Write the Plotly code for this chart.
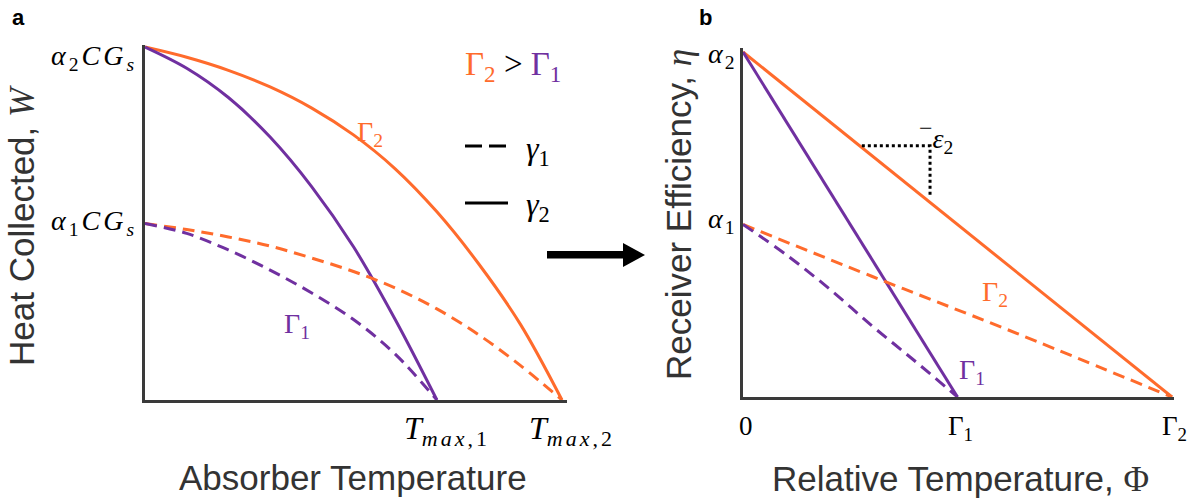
import plotly.graph_objects as go

# ---------------------------------------------------------------
# Panel a: heat collected W vs absorber temperature
# (temperature scaled so T_max,2 = 1, heat scaled so alpha2*C*G_s = 1)
# ---------------------------------------------------------------
a_T_g2_G2 = [0.0, 0.1, 0.2, 0.3, 0.4, 0.5, 0.6, 0.7, 0.8, 0.9, 1.0]
a_W_g2_G2 = [1.0, 0.971, 0.934, 0.887, 0.827, 0.751, 0.655, 0.533, 0.386, 0.215, 0.0]

a_T_g2_G1 = [0.0, 0.1, 0.2, 0.3, 0.4, 0.5, 0.6, 0.70]
a_W_g2_G1 = [1.0, 0.940, 0.857, 0.745, 0.604, 0.434, 0.228, 0.0]

a_T_g1_G2 = [0.0, 0.1, 0.2, 0.3, 0.4, 0.5, 0.6, 0.7, 0.8, 0.9, 1.0]
a_W_g1_G2 = [0.5, 0.483, 0.462, 0.436, 0.402, 0.364, 0.317, 0.258, 0.185, 0.098, 0.0]

a_T_g1_G1 = [0.0, 0.1, 0.2, 0.3, 0.4, 0.5, 0.6, 0.70]
a_W_g1_G1 = [0.5, 0.472, 0.425, 0.368, 0.303, 0.228, 0.130, 0.0]

a_xtick_vals = [0.70, 1.0]
a_xtick_text = ["<i>T</i><sub><span style='font-size:22px;letter-spacing:3px'><i>max</i>,1</span></sub>",
                "<i>T</i><sub><span style='font-size:22px;letter-spacing:3px'><i>max</i>,2</span></sub>"]
a_ytick_vals = [1.0, 0.5]
a_ytick_text = ["<i>α</i><sub>2</sub><i>CG</i><sub><i>s</i></sub>",
                "<i>α</i><sub>1</sub><i>CG</i><sub><i>s</i></sub>"]

# ---------------------------------------------------------------
# Panel b: receiver efficiency eta vs relative temperature Phi
# (Phi scaled so Gamma_2 = 1, eta scaled so alpha2 = 1)
# ---------------------------------------------------------------
b_P_g2_G2 = [0.0, 1.0]
b_E_g2_G2 = [1.0, 0.0]

b_P_g2_G1 = [0.0, 0.5]
b_E_g2_G1 = [1.0, 0.0]

b_P_g1_G2 = [0.0, 0.30, 0.615, 1.0]
b_E_g1_G2 = [0.5, 0.350, 0.196, 0.0]

b_P_g1_G1 = [0.0, 0.1, 0.2, 0.3, 0.4, 0.5]
b_E_g1_G1 = [0.5, 0.413, 0.315, 0.207, 0.105, 0.0]

# slope marker on the gamma_2, Gamma_2 line
b_slope_P = [0.277, 0.436, 0.436]
b_slope_E = [0.728, 0.728, 0.580]

b_xtick_vals = [0.0, 0.5, 1.0]
b_xtick_text = ["0", "Γ<sub>1</sub>", "Γ<sub>2</sub>"]
b_ytick_vals = [1.0, 0.5]
b_ytick_text = ["<i>α</i><sub>2</sub>", "<i>α</i><sub>1</sub>"]

# ---------------------------------------------------------------
W, H = 1198, 501
ORANGE = "#FF6B2C"
PURPLE = "#7030A0"
AXIS = "#3A3A3A"
TITLE = "#333333"
SANS = "Liberation Sans"
SERIF = "Liberation Serif"
DASH = "12px,7px"


def px(x):
    return x / W


def py(y):
    return 1 - y / H


fig = go.Figure()


def curve(xs, ys, color, dash, axes, shape="spline"):
    fig.add_trace(go.Scatter(
        x=xs, y=ys, mode="lines", xaxis=axes[0], yaxis=axes[1],
        line=dict(color=color, width=3, dash=dash, shape=shape, smoothing=1.0),
        hoverinfo="skip", showlegend=False))


A = ("x", "y")
B = ("x2", "y2")
curve(a_T_g2_G2, a_W_g2_G2, ORANGE, "solid", A)
curve(a_T_g2_G1, a_W_g2_G1, PURPLE, "solid", A)
curve(a_T_g1_G2, a_W_g1_G2, ORANGE, DASH, A)
curve(a_T_g1_G1, a_W_g1_G1, PURPLE, DASH, A)

curve(b_P_g2_G2, b_E_g2_G2, ORANGE, "solid", B, "linear")
curve(b_P_g2_G1, b_E_g2_G1, PURPLE, "solid", B, "linear")
curve(b_P_g1_G2, b_E_g1_G2, ORANGE, DASH, B)
curve(b_P_g1_G1, b_E_g1_G1, PURPLE, DASH, B)
fig.add_trace(go.Scatter(
    x=b_slope_P, y=b_slope_E, mode="lines", xaxis="x2", yaxis="y2",
    line=dict(color="black", width=3, dash="dot"),
    hoverinfo="skip", showlegend=False))

axis_common = dict(showgrid=False, zeroline=False, showticklabels=False,
                   ticks="", showline=True, linecolor=AXIS, linewidth=3,
                   fixedrange=True)

fig.update_layout(
    width=W, height=H,
    margin=dict(l=0, r=0, t=0, b=0),
    paper_bgcolor="white", plot_bgcolor="white",
    xaxis=dict(domain=[px(145), px(567)], range=[0, 1.012], anchor="y", **axis_common),
    yaxis=dict(domain=[py(400), py(45)], range=[0, 1.0057], anchor="x", **axis_common),
    xaxis2=dict(domain=[px(743), px(1174)], range=[0, 1.0047], anchor="y2", **axis_common),
    yaxis2=dict(domain=[py(397), py(48)], range=[0, 1.0116], anchor="x2", **axis_common),
)

ann = []


def note(text, x, y, size, family=SERIF, color="black", xref="paper", yref="paper",
         xanchor="center", yanchor="middle", xshift=0, yshift=0, angle=0):
    ann.append(dict(text=text, x=x, y=y, xref=xref, yref=yref, showarrow=False,
                    xanchor=xanchor, yanchor=yanchor, xshift=xshift, yshift=yshift,
                    textangle=angle, font=dict(family=family, size=size, color=color)))


def spaced(t, sp):
    return f"<span style='letter-spacing:{sp}px'>{t}</span>"


# tick labels
for v, t in zip(a_ytick_vals, a_ytick_text):
    note(spaced(t, 3), 0, v, 28, xref="x", yref="y", xanchor="right", xshift=-6,
         yshift=-10 if v == 1.0 else 1)
for v, t in zip(a_xtick_vals, a_xtick_text):
    note(t, v, 0, 32, xref="x", yref="y", yanchor="top", yshift=-8, xshift=10)
for v, t in zip(b_ytick_vals, b_ytick_text):
    note(spaced(t, 2), 0, v, 28, xref="x2", yref="y2", xanchor="right", xshift=-4,
         yshift=-4 if v == 1.0 else 4)
for v, t in zip(b_xtick_vals, b_xtick_text):
    note(t, v, 0, 27, xref="x2", yref="y2", yanchor="top", yshift=-12, xshift=3)

# axis titles
note("Heat Collected, <span style='font-family:Liberation Serif'><i>W</i></span>",
     px(22), py(226), 35, family=SANS, color=TITLE, angle=-90)
note("Absorber Temperature", px(353), py(477), 35, family=SANS, color=TITLE)
note("Receiver Efficiency, <span style='font-family:Liberation Serif'><i>η</i></span>",
     px(679), py(215), 35, family=SANS, color=TITLE, angle=-90)
note("Relative Temperature, <span style='font-family:Liberation Serif'>Φ</span>",
     px(960), py(479), 35, family=SANS, color=TITLE)

# panel letters
note("<b>a</b>", px(18), py(18), 22, family=SANS)
note("<b>b</b>", px(705), py(17), 22, family=SANS)

# curve labels
note("Γ<sub>2</sub>", 0.54, 0.756, 28, color=ORANGE, xref="x", yref="y")
note("Γ<sub>1</sub>", 0.365, 0.212, 28, color=PURPLE, xref="x", yref="y")
note("Γ<sub>2</sub>", 0.587, 0.301, 28, color=ORANGE, xref="x2", yref="y2")
note("Γ<sub>1</sub>", 0.534, 0.075, 28, color=PURPLE, xref="x2", yref="y2")
note("<sup><span style='font-size:24px'>−</span></sup><i>ε</i><sub>2</sub>",
     0.449, 0.755, 28, xref="x2", yref="y2")

# key
note(f"<span style='color:{ORANGE}'>Γ<sub>2</sub></span> > "
     f"<span style='color:{PURPLE}'>Γ<sub>1</sub></span>",
     px(513), py(67), 33)
note("<i>γ</i><sub>1</sub>", px(538), py(151), 32)
note("<i>γ</i><sub>2</sub>", px(538), py(206), 32)

fig.update_layout(annotations=ann)

shapes = [
    dict(type="line", xref="paper", yref="paper", x0=px(465), x1=px(507),
         y0=py(146), y1=py(146), line=dict(color="black", width=3, dash="17px,7px")),
    dict(type="line", xref="paper", yref="paper", x0=px(465), x1=px(508),
         y0=py(203), y1=py(203), line=dict(color="black", width=3)),
    # arrow between the panels
    dict(type="rect", xref="paper", yref="paper", x0=px(547), x1=px(625),
         y0=py(258.5), y1=py(251), fillcolor="black", line=dict(width=0)),
    dict(type="path", xref="paper", yref="paper",
         path=f"M {px(623)} {py(243)} L {px(645)} {py(255)} L {px(623)} {py(267)} Z",
         fillcolor="black", line=dict(width=0)),
]
fig.update_layout(shapes=shapes)

fig.write_html("out.html")
